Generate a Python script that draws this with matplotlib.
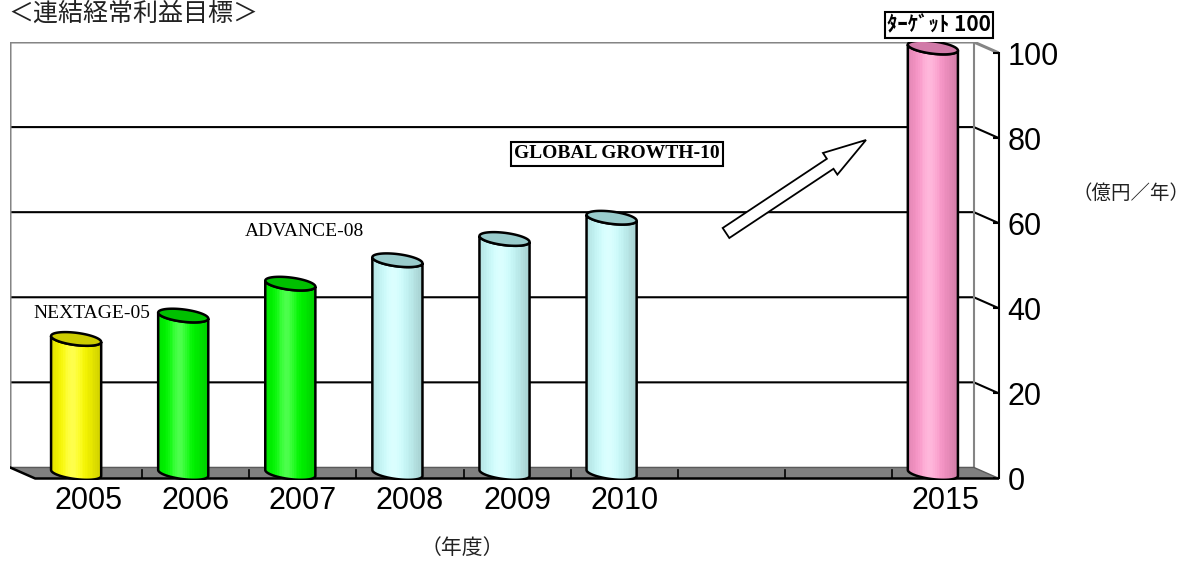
import numpy as np
import matplotlib
matplotlib.use("Agg")
import matplotlib.pyplot as plt
from matplotlib.patches import Polygon, FancyArrow
from matplotlib.colors import to_rgb

plt.rcParams['font.family'] = ['Noto Sans CJK JP', 'DejaVu Sans']

# data (億円/年)
categories = ['2005', '2006', '2007', '2008', '2009', '2010', '', '', '2015']
values = [31.5, 37, 44.5, 50, 55, 60, np.nan, np.nan, 100]
bar_colors = ['#ffff00', '#00ff00', '#00ff00', '#ccffff', '#ccffff', '#ccffff', None, None, '#ff99cc']
top_colors = ['#cccc00', '#00c000', '#00c000', '#99cccc', '#99cccc', '#99cccc', None, None, '#d17aa8']
y_ticks = [0, 20, 40, 60, 80, 100]

W, H = 1194, 562
DX = 0.235   # depth of the 3d box, in categories
DY = 2.6     # depth of the 3d box, in value units
HW = 0.234   # cylinder half width
EB = 1.45    # ellipse half height
EK = 0.7     # ellipse tilt

fig = plt.figure(figsize=(W / 100, H / 100), dpi=100)
ax = fig.add_axes([10 / W, (H - 480.2) / H, 989 / W, 438.2 / H])
n = len(categories)
x0, x1 = -0.5, n - 0.5

# back wall, side wall, floor
ax.add_patch(Polygon([(x0 - DX, DY), (x1 - DX, DY), (x1 - DX, 100 + DY), (x0 - DX, 100 + DY)],
                     closed=True, fc='white', ec='none', zorder=0))
for t in y_ticks[1:-1]:
    ax.plot([x0 - DX, x1 - DX, x1], [t + DY, t + DY, t], color='black', lw=1.5, zorder=1)
ax.plot([x0 - DX, x0 - DX, x1 - DX, x1], [DY, 100 + DY, 100 + DY, 100],
        color='#858585', lw=2.2, zorder=1, solid_joinstyle='miter')
ax.plot([x1 - DX, x1 - DX], [DY, 100 + DY], color='#858585', lw=1.5, zorder=1)

ax.add_patch(Polygon([(x0, 0), (x1, 0), (x1 - DX, DY), (x0 - DX, DY)],
                     closed=True, fc='#808080', ec='none', zorder=1))
ax.plot([x0 - DX, x1 - DX, x1], [DY, DY, 0], color='#5a5a5a', lw=1, zorder=2)
ax.plot([x0 - DX, x0, x1], [DY, 0, 0], color='black', lw=1.8, zorder=2)
for b in np.arange(x0 + 1, x1, 1.0):
    ax.plot([b, b], [0, 1.9], color='black', lw=1.2, zorder=2)


def ell(cx, yc, t):
    return np.column_stack([cx + HW * np.cos(t), yc + EB * np.sin(t) - EK * np.cos(t)])


t_front = np.linspace(np.pi, 2 * np.pi, 40)
t_all = np.linspace(0, 2 * np.pi, 80)
u = np.linspace(0, 1, 30)
shade = 0.78 + 0.22 * np.cos((u - 0.42) * np.pi / 1.25)
hl = 0.3 * np.clip(np.cos((u - 0.42) * np.pi * 1.4), 0, None) ** 3

# cylinders
for i, v in enumerate(values):
    if np.isnan(v):
        continue
    cx = i - DX / 2
    yb = DY / 2
    yt = v + DY / 2
    pts = np.vstack([ell(cx, yt, t_front), ell(cx, yb, t_front[::-1])])
    body = Polygon(pts, closed=True, fc='none', ec='black', lw=1.8, zorder=4)
    ax.add_patch(body)
    base = np.array(to_rgb(bar_colors[i]))
    col = base[None, :] * shade[:, None]
    col = col + (1 - col) * hl[:, None]
    im = ax.imshow(col[None, :, :], extent=(cx - HW, cx + HW, yb - 3, yt + 3),
                   aspect='auto', interpolation='nearest', zorder=3)
    im.set_clip_path(body)
    ax.add_patch(Polygon(ell(cx, yt, t_all), closed=True, fc=top_colors[i],
                         ec='black', lw=1.8, zorder=5))

ax.set_xlim(x0 - DX, x1)
ax.set_ylim(-0.4, 100 + DY)
ax.set_xticks(range(n))
ax.set_xticklabels(categories)
ax.tick_params(axis='x', length=0, pad=4, labelsize=22, labelfontfamily='Liberation Sans')
ax.yaxis.tick_right()
ax.set_yticks(y_ticks)
ax.tick_params(axis='y', direction='in', length=4, width=1.5, pad=6, labelsize=22,
               labelfontfamily='Liberation Sans')
for s in ['left', 'top', 'bottom']:
    ax.spines[s].set_visible(False)
ax.spines['right'].set_bounds(0, 100)
ax.spines['right'].set_linewidth(1.5)
ax.patch.set_visible(False)

# annotations in pixel coordinates
ov = fig.add_axes([0, 0, 1, 1])
ov.set_xlim(0, W)
ov.set_ylim(H, 0)
ov.axis('off')

ov.text(8, 14, '＜連結経常利益目標＞', fontsize=18, va='center', ha='left', color='#222222')
ov.text(1190, 193, '（億円／年）', fontsize=14, va='center', ha='right', color='#222222')
ov.text(462, 548, '（年度）', fontsize=15, va='center', ha='center', color='#222222')
ov.text(92, 313, 'NEXTAGE-05', family='Liberation Serif', fontsize=14, va='center', ha='center')
ov.text(304, 232, 'ADVANCE-08', family='Liberation Serif', fontsize=14, va='center', ha='center')
ov.text(514, 154, 'GLOBAL GROWTH-10', family='Liberation Serif', weight='bold', fontsize=14,
        va='center', ha='left',
        bbox=dict(boxstyle='square,pad=0.18', fc='white', ec='black', lw=1.5))
ov.text(939, 25, 'ﾀｰｹﾞｯﾄ 100', weight='bold', fontsize=15, va='center', ha='center',
        bbox=dict(boxstyle='square,pad=0.1', fc='white', ec='black', lw=1.5))
ov.add_patch(FancyArrow(726, 233, 140, -93, width=12, head_width=26, head_length=43,
                        length_includes_head=True, fc='white', ec='black', lw=1.3))

fig.savefig('out.png', dpi=100)
